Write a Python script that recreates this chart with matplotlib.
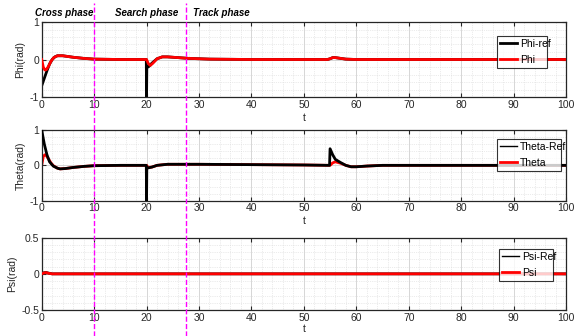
import matplotlib
matplotlib.use('Agg')
import matplotlib.pyplot as plt
from matplotlib.transforms import blended_transform_factory
from matplotlib.lines import Line2D
from matplotlib.ticker import MultipleLocator, FormatStrFormatter

plt.rcParams['font.family'] = ['Liberation Sans', 'DejaVu Sans']
plt.rcParams['axes.unicode_minus'] = False

# Phi (roll)
t_phi_ref = [0, 0.5, 1, 1.5, 2, 2.5, 3, 4, 5, 6, 8, 10, 15, 19.95, 20, 20.05, 20.5, 21, 22, 23, 24, 26, 28, 32, 40,
             54.5, 55, 55.5, 56, 57, 58, 60, 100]
phi_ref = [-0.7, -0.5, -0.3, -0.12, 0.0, 0.07, 0.1, 0.1, 0.08, 0.06, 0.03, 0.01, 0, 0, -1, -0.22, -0.18, -0.1, 0.02,
           0.07, 0.07, 0.05, 0.03, 0.01, 0, 0, 0.02, 0.05, 0.05, 0.03, 0.01, 0, 0]
t_phi = [0, 0.3, 0.6, 0.9, 1.3, 1.8, 2.3, 3, 4, 5, 6, 8, 10, 15, 20, 20.3, 20.7, 21.2, 22, 23, 24, 26, 28, 32, 40,
         54.5, 55, 55.5, 56, 57, 58, 60, 100]
phi = [0, -0.2, -0.28, -0.27, -0.18, -0.04, 0.05, 0.1, 0.1, 0.08, 0.06, 0.03, 0.01, 0, 0, -0.1, -0.16, -0.1, 0.02,
       0.07, 0.07, 0.05, 0.03, 0.01, 0, 0, 0.02, 0.05, 0.05, 0.03, 0.01, 0, 0]

# Theta (pitch)
t_theta_ref = [0, 0.5, 1, 1.5, 2.2, 3, 3.5, 4.5, 6, 8, 10, 15, 19.95, 20, 20.05, 21, 22, 24, 30, 40, 50, 54.9, 55,
               55.5, 56, 57, 58, 59, 60, 62, 65, 100]
theta_ref = [1, 0.6, 0.3, 0.1, -0.02, -0.08, -0.1, -0.09, -0.06, -0.03, -0.01, 0, 0, -1, -0.08, -0.05, 0, 0.03,
             0.03, 0.02, 0.01, 0, 0.47, 0.3, 0.17, 0.08, 0, -0.04, -0.04, -0.02, 0, 0]
t_theta = [0, 0.3, 0.6, 0.9, 1.3, 1.8, 2.3, 3, 3.5, 4.5, 6, 8, 10, 15, 20, 20.3, 21, 22, 24, 30, 40, 50, 55, 55.5,
           56, 57, 58, 59, 60, 62, 65, 100]
theta = [0, 0.25, 0.3, 0.27, 0.18, 0.06, -0.02, -0.08, -0.1, -0.09, -0.06, -0.03, -0.01, 0, 0, -0.06, -0.05, 0,
         0.03, 0.03, 0.02, 0.01, 0, 0.07, 0.1, 0.06, 0, -0.04, -0.04, -0.02, 0, 0]

# Psi (yaw)
t_psi = [0, 0.4, 0.8, 1.3, 2, 100]
psi_ref = [0, 0.015, 0.02, 0.01, 0, 0]
psi = [0, 0.012, 0.018, 0.008, 0, 0]

phase_lines = [10, 27.6]
phase_names = ['Cross phase', 'Search phase', 'Track phase']
phase_x = [-1.3, 14.0, 28.9]

fig = plt.figure(figsize=(5.77, 3.36), dpi=100)
W, H = 577, 336
boxes = [(22, 97), (130, 200.7), (237.7, 310)]
left, right = 41.7, 566
axes = []
for top, bot in boxes:
    ax = fig.add_axes([left / W, 1 - bot / H, (right - left) / W, (bot - top) / H])
    axes.append(ax)

panels = [
    (t_phi_ref, phi_ref, t_phi, phi, 'Phi-ref', 'Phi', 'Phi(rad)', (-1, 1), 1, 0.2, 2, 3),
    (t_theta_ref, theta_ref, t_theta, theta, 'Theta-Ref', 'Theta', 'Theta(rad)', (-1, 1), 1, 0.2, 3, 2),
    (t_psi, psi_ref, t_psi, psi, 'Psi-Ref', 'Psi', 'Psi(rad)', (-0.5, 0.5), 0.5, 0.1, 2, 3),
]
legend_boxes = [(497, 28, 547, 68), (497, 137, 561, 171), (499, 241, 553, 281)]
xlabel_pad = [2, 2, 1]

for i, (ax, p, lb) in enumerate(zip(axes, panels, legend_boxes)):
    tr, yr, tm, ym, lr, lm, ylab, ylim, major, minor, zr, zm = p
    ax.plot(tr, yr, color='black', lw=2, label=lr, zorder=zr)
    ax.plot(tm, ym, color='red', lw=2, label=lm, zorder=zm)
    ax.set_xlim(0, 100)
    ax.set_ylim(*ylim)
    ax.xaxis.set_major_locator(MultipleLocator(10))
    ax.xaxis.set_minor_locator(MultipleLocator(2))
    ax.yaxis.set_major_locator(MultipleLocator(major))
    ax.yaxis.set_minor_locator(MultipleLocator(minor))
    ax.yaxis.set_major_formatter(FormatStrFormatter('%g'))
    ax.grid(which='major', color='#d0d0d0', lw=0.6)
    ax.grid(which='minor', color='#d8d8d8', lw=0.5, ls=':')
    ax.tick_params(which='both', direction='in', top=True, right=True, labelsize=7.5,
                   colors='#262626', length=3, pad=2)
    ax.tick_params(which='minor', length=0)
    for s in ax.spines.values():
        s.set_color('#262626')
        s.set_linewidth(0.9)
    ax.set_ylabel(ylab, fontsize=7.5, color='#262626', labelpad=3)
    ax.set_xlabel('t', fontsize=7.5, color='#262626', labelpad=xlabel_pad[i])
    x0, y0, x1, y1 = lb
    leg = ax.legend(loc='lower left', bbox_to_anchor=(x0 / W, 1 - y1 / H, (x1 - x0) / W, (y1 - y0) / H),
                    bbox_transform=fig.transFigure, mode='expand', fontsize=7.5, frameon=True, fancybox=False,
                    handlelength=1.6, handletextpad=0.3, borderaxespad=0, borderpad=0.3, labelspacing=0.6)
    leg.get_frame().set_edgecolor('black')
    leg.get_frame().set_linewidth(0.8)
    if i > 0:
        leg.get_lines()[0].set_linewidth(1)

# phase separators across the whole figure
tr = blended_transform_factory(axes[0].transData, fig.transFigure)
for xv in phase_lines:
    fig.add_artist(Line2D([xv, xv], [0, 0.99], transform=tr, color='magenta', ls='--', lw=1))
for name, xv in zip(phase_names, phase_x):
    fig.text(xv, 1 - 13 / H, name, transform=tr, fontsize=7, fontweight='bold', fontstyle='italic',
             va='center', ha='left')

fig.savefig('out.png', dpi=100)
